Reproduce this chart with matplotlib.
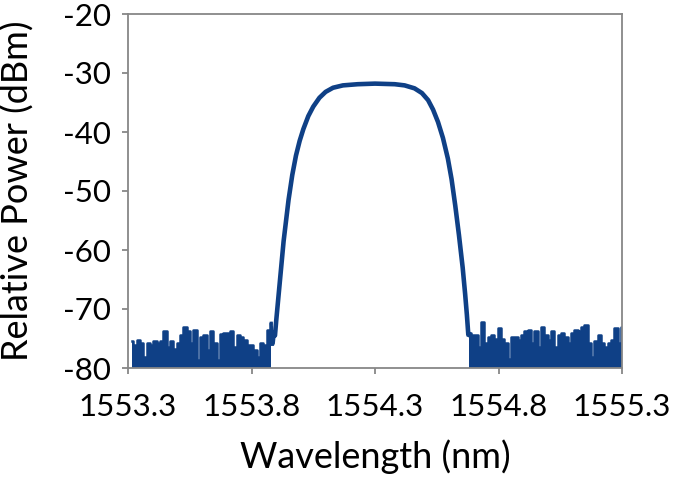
import matplotlib
matplotlib.use("Agg")
import matplotlib.pyplot as plt
import numpy as np

# ---- data ----
noise_left_x = [1553.315, 1553.328, 1553.342, 1553.355, 1553.369, 1553.382, 1553.396, 1553.409,
                1553.423, 1553.436, 1553.450, 1553.463, 1553.477, 1553.490, 1553.504, 1553.517,
                1553.531, 1553.544, 1553.558, 1553.571, 1553.585, 1553.598, 1553.612, 1553.625,
                1553.639, 1553.652, 1553.666, 1553.679, 1553.693, 1553.706, 1553.720, 1553.733,
                1553.747, 1553.760, 1553.774, 1553.787, 1553.801, 1553.814, 1553.828, 1553.841,
                1553.855, 1553.868, 1553.880]
noise_left_y = [-75.4, -76.1, -75.3, -75.8, -78.1, -75.8, -76.1, -75.5,
                -75.8, -75.5, -73.8, -76.4, -75.5, -76.7, -75.7, -74.4,
                -73.0, -73.8, -75.8, -73.6, -78.6, -74.7, -74.4, -76.9,
                -73.8, -75.8, -78.6, -74.2, -74.1, -74.1, -73.8, -76.4,
                -74.4, -74.7, -75.3, -76.1, -76.1, -76.9, -78.1, -75.8,
                -76.1, -73.6, -72.4]

peak_x = [1553.885, 1553.890, 1553.895, 1553.900, 1553.910, 1553.920, 1553.930, 1553.940,
          1553.950, 1553.965, 1553.980, 1553.995, 1554.010, 1554.030, 1554.050, 1554.075,
          1554.100, 1554.130, 1554.170, 1554.230, 1554.300, 1554.380, 1554.420, 1554.460,
          1554.490, 1554.515, 1554.535, 1554.555, 1554.575, 1554.595, 1554.610, 1554.625,
          1554.640, 1554.655, 1554.665, 1554.672, 1554.678]
peak_y = [-76.0, -74.0, -74.5, -72.0, -67.5, -63.0, -58.5, -55.0,
          -51.5, -47.3, -44.0, -41.5, -39.5, -37.3, -35.7, -34.2,
          -33.2, -32.5, -32.1, -31.9, -31.8, -31.9, -32.1, -32.6,
          -33.4, -34.6, -36.2, -38.3, -41.0, -44.5, -48.0, -52.5,
          -57.5, -63.0, -67.5, -71.0, -74.5]

noise_right_x = [1554.682, 1554.695, 1554.709, 1554.722, 1554.736, 1554.749, 1554.763, 1554.776,
                 1554.790, 1554.803, 1554.817, 1554.830, 1554.844, 1554.857, 1554.871, 1554.884,
                 1554.898, 1554.911, 1554.925, 1554.938, 1554.952, 1554.965, 1554.979, 1554.992,
                 1555.006, 1555.019, 1555.033, 1555.046, 1555.060, 1555.073, 1555.087, 1555.100,
                 1555.114, 1555.127, 1555.141, 1555.154, 1555.168, 1555.181, 1555.195, 1555.208,
                 1555.222, 1555.235, 1555.249, 1555.262, 1555.276, 1555.289, 1555.299]
noise_right_y = [-74.1, -74.4, -74.4, -76.4, -72.2, -75.8, -74.7, -74.4,
                 -75.0, -73.3, -75.0, -75.8, -78.4, -74.7, -74.7, -75.3,
                 -74.4, -73.8, -73.6, -75.8, -73.8, -76.4, -73.0, -74.4,
                 -75.3, -73.8, -76.4, -74.4, -74.1, -74.7, -75.8, -74.1,
                 -73.6, -73.8, -73.0, -72.7, -75.8, -78.1, -75.5, -74.4,
                 -75.8, -76.4, -75.8, -75.3, -73.3, -75.8, -73.0]

x_ticks = [1553.3, 1553.8, 1554.3, 1554.8, 1555.3]
x_tick_labels = ["1553.3", "1553.8", "1554.3", "1554.8", "1555.3"]
y_ticks = [-80, -70, -60, -50, -40, -30, -20]
y_tick_labels = ["-80", "-70", "-60", "-50", "-40", "-30", "-20"]
floor_level = -80

# ---- plotting ----
plt.rcParams['font.family'] = ['Lato', 'DejaVu Sans']
color = "#0f4086"
spine_color = "#878787"

fig = plt.figure(figsize=(6.75, 4.8), dpi=100)
ax = fig.add_axes([128/675, 1 - 368/480, (622-128)/675, (368-14)/480])

for nx, ny in ((noise_left_x, noise_left_y), (noise_right_x, noise_right_y)):
    ax.fill_between(nx, ny, floor_level, step='mid', color=color, linewidth=0)
    ax.plot(nx, ny, color=color, linewidth=1.8, drawstyle='steps-mid')
ax.plot(peak_x, peak_y, color=color, linewidth=3.3, solid_capstyle='butt')
ax.plot([noise_left_x[-1], peak_x[0]], [noise_left_y[-1], peak_y[0]], color=color, linewidth=2.2)
ax.plot([peak_x[-1], noise_right_x[0]], [peak_y[-1], noise_right_y[0]], color=color, linewidth=2.2)

ax.set_xlim(1553.3, 1555.3)
ax.set_ylim(-80, -20)
ax.set_xticks(x_ticks)
ax.set_xticklabels(x_tick_labels)
ax.set_yticks(y_ticks)
ax.set_yticklabels(y_tick_labels)

for s in ax.spines.values():
    s.set_color(spine_color)
    s.set_linewidth(1.3)
ax.tick_params(axis='both', color=spine_color, width=1.3, length=4, labelsize=22.5,
               direction='out', pad=8)
ax.tick_params(axis='x', pad=14)

ax.set_xlabel("Wavelength (nm)", fontsize=26, va='center')
ax.set_ylabel("Relative Power (dBm)", fontsize=26, va='center')
ax.xaxis.set_label_coords(0.5, -(457 - 368) / 354)
ax.yaxis.set_label_coords((18 - 128) / 494, 0.5)

fig.savefig("out.png", dpi=100)
